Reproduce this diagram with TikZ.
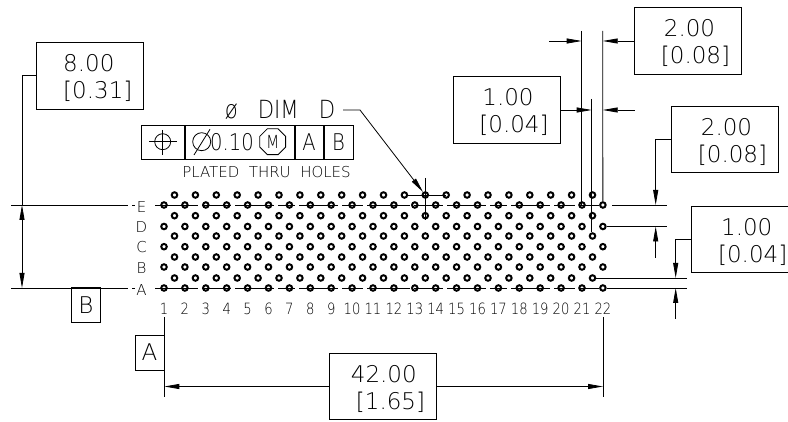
\documentclass[tikz,border=0pt]{standalone}
\usepackage{fontspec}
\setmainfont{DejaVu Sans ExtraLight}
\newfontfamily\narrowcad[FakeStretch=0.85]{DejaVu Sans ExtraLight}
\usetikzlibrary{arrows.meta,positioning,shapes.geometric}
\newcommand{\dimtext}[4]{\hspace*{#1}\rule{0pt}{21.5pt}#2\\\hspace*{#3}#4}

\begin{document}
\begin{tikzpicture}[
        x=1pt, y=-1pt,
        >={Triangle[length=15pt,width=5pt]},
        line width=0.8pt,
        dimbox/.style={draw, inner sep=0pt, align=left, minimum width=107pt, minimum height=66.5pt, font=\fontsize{23}{27}\selectfont},
        tagbox/.style={draw, inner sep=0pt, minimum width=29pt, minimum height=35pt, font=\fontsize{23}{24}\selectfont},
        framebox/.style={draw, inner sep=0pt, minimum height=33.4pt, font=\narrowcad\fontsize{23}{24}\selectfont},
        pinlabel/.style={inner sep=0pt, font=\narrowcad\fontsize{15.5}{16}\selectfont},
        rowlabel/.style={inner sep=0pt, font=\fontsize{15}{16}\selectfont},
        hole/.style={circle, draw, line width=2pt, minimum size=5.5pt, inner sep=0pt},
        centerline/.style={dash pattern=on 43pt off 4pt on 29pt off 4pt on 39pt off 4pt on 17pt off 4pt on 39pt off 4pt on 21pt off 4pt},
        tickline/.style={dash pattern=on 117pt off 4pt on 3pt}
        ]

        \useasboundingbox (0,0) rectangle (788,422);

        % Holes
        \foreach \c in {1,...,22} {
            \foreach \r/\y in {A/288,B/267,C/246.7,D/226.5,E/205}
                \node[hole] (\r\c) at ({164+(\c-1)*20.9},\y) {};
        }
        \foreach \c in {1,...,21} {
            \foreach \r/\y in {AB/278,BC/257,CD/236,DE/215.7,EF/195}
                \node[hole] (\r\c) at ({174.5+(\c-1)*20.9},\y) {};
        }

        % Labels
        \foreach \c in {1,...,22}
            \node[pinlabel] (pin\c) at ({164+(\c-1)*20.9},308.5) {\c};
        \foreach \r/\y in {A/290,B/268,C/247,D/227,E/207.5}
            \node[rowlabel] (lab\r) at (141.5,\y) {\r};

        % Boxes
        \node[dimbox] (box8) at (90.3,75.7) {\dimtext{15pt}{8.00}{15pt}{[0.31]}};
        \node[dimbox] (box2top) at (688,41) {\dimtext{18pt}{2.00}{15pt}{[0.08]}};
        \node[dimbox] (box1top) at (506.5,110) {\dimtext{18pt}{1.00}{15pt}{[0.04]}};
        \node[dimbox] (box2side) at (725,139.3) {\dimtext{18pt}{2.00}{15pt}{[0.08]}};
        \node[dimbox] (box1side) at (745.2,239.5) {\dimtext{18pt}{1.00}{15pt}{[0.04]}};
        \node[dimbox] (box42) at (383,386.5) {\dimtext{10pt}{42.00}{15pt}{[1.65]}};
        \node[tagbox] (tagB) at (85.8,305) {B};
        \node[tagbox] (tagA) at (149.5,352.5) {A};

        % Frame
        \node[framebox, minimum width=42.6pt] (fcf1) at (163,142.3) {};
        \node[framebox, minimum width=109pt, right=0pt of fcf1] (fcf2) {};
        \node[framebox, minimum width=28.4pt, right=0pt of fcf2] (fcf3) {A};
        \node[framebox, minimum width=29pt, right=0pt of fcf3] (fcf4) {B};
        \node[draw, circle, inner sep=0pt, minimum size=16pt] (target) at (162.7,141.7) {};
        \draw (162.7,130) -- (162.7,155);
        \draw (149,141.7) -- (177,141.7);
        \node[draw, circle, inner sep=0pt, minimum size=18pt] (dia) at (201.7,141.7) {};
        \draw (194,155) -- (210,129.3);
        \node[inner sep=0pt, font=\narrowcad\fontsize{23}{24}\selectfont] (tol) at (232,141.7) {0.10};
        \node[draw, regular polygon, regular polygon sides=8, inner sep=0pt, minimum size=28pt, font=\narrowcad\fontsize{18}{18}\selectfont] (mod) at (272.7,141.7) {M};
        \node[inner sep=0pt, font=\fontsize{15}{16}\selectfont] (plated) at (266.5,172.5) {PLATED\ \ THRU\ \ HOLES};

        % Hole callout
        \node[inner sep=0pt, font=\narrowcad\fontsize{25}{25}\selectfont] (dimd) at (280,109.5) {ø\hspace{20pt}DIM\hspace{20pt}D};
        \coordinate (calloutstart) at (343,110);
        \coordinate (calloutelbow) at (360,110);
        \draw[->] (calloutstart) -- (calloutelbow) -- (EF13);
        \draw (EF13) ++(0,-17) -- ++(0,42);
        \draw (EF13) ++(-17,0) -- ++(38,0);

        % Row lines
        \coordinate (ruleE) at (11,205);
        \coordinate (tickE) at (135,205);
        \coordinate (ruleA) at (11,288);
        \coordinate (tickA) at (135,288);
        \coordinate (startE) at (155,205);
        \coordinate (startA) at (155,288);
        \draw[tickline] (ruleE) -- (tickE);
        \draw[tickline] (ruleA) -- (tickA);
        \draw[centerline] (startE) -- (E22);
        \draw[centerline] (startA) -- (A22);
        \coordinate (gapE) at (612,205);
        \coordinate (extE) at (667,205);
        \coordinate (extD) at (667,226.5);
        \coordinate (extAB) at (687,278);
        \coordinate (extA) at (687,288);
        \draw (gapE) -- (extE);
        \draw (D22) -- (extD);
        \draw (AB21) -- (extAB);
        \draw (A22) -- (extA);

        % Width dimensions
        \coordinate (topL) at (581.7,31);
        \coordinate (botL) at (581.7,205);
        \coordinate (topR) at (602.7,31);
        \coordinate (topM) at (591.7,99);
        \coordinate (botM) at (591.7,232);
        \coordinate (tipL) at (581.7,41);
        \coordinate (tipR) at (602.7,41);
        \coordinate (tipM) at (591.7,110);
        \coordinate (tipQ) at (602.7,110);
        \coordinate (freeL) at (549,41);
        \coordinate (freeQ) at (634.7,110);
        \draw (topL) -- (botL);
        \draw (topR) -- (E22);
        \draw (topM) -- (botM);
        \draw[->] (freeL) -- (tipL);
        \draw[->] (box2top.west) -- (tipR);
        \draw[->] (box1top.east) -- (tipM);
        \draw[->] (freeQ) -- (tipQ);

        % Height dimensions
        \coordinate (elbow8) at (22,75.7);
        \coordinate (tip8top) at (22,205);
        \coordinate (tip8bot) at (22,288);
        \draw (box8.west) -- (elbow8) -- (tip8top);
        \draw[<->] (tip8top) -- (tip8bot);

        \coordinate (elbow2) at (655.7,139.3);
        \coordinate (tip2top) at (655.7,205);
        \coordinate (tip2bot) at (655.7,226.5);
        \coordinate (free2) at (655.7,257.7);
        \draw[->] (box2side.west) -- (elbow2) -- (tip2top);
        \draw[->] (free2) -- (tip2bot);

        \coordinate (elbow1) at (675.7,239.5);
        \coordinate (tip1top) at (675.7,278);
        \coordinate (tip1bot) at (675.7,288);
        \coordinate (free1) at (675.7,319);
        \draw[->] (box1side.west) -- (elbow1) -- (tip1top);
        \draw[->] (free1) -- (tip1bot);

        % Overall length
        \coordinate (leftT) at (164.3,317);
        \coordinate (leftB) at (164.3,397.3);
        \coordinate (rightT) at (603,317);
        \coordinate (rightB) at (603,397.3);
        \coordinate (tip42L) at (164.3,386.5);
        \coordinate (tip42R) at (603,386.5);
        \draw (leftT) -- (leftB);
        \draw (rightT) -- (rightB);
        \draw[->] (box42.west) -- (tip42L);
        \draw[->] (box42.east) -- (tip42R);

    \end{tikzpicture}
\end{document}
